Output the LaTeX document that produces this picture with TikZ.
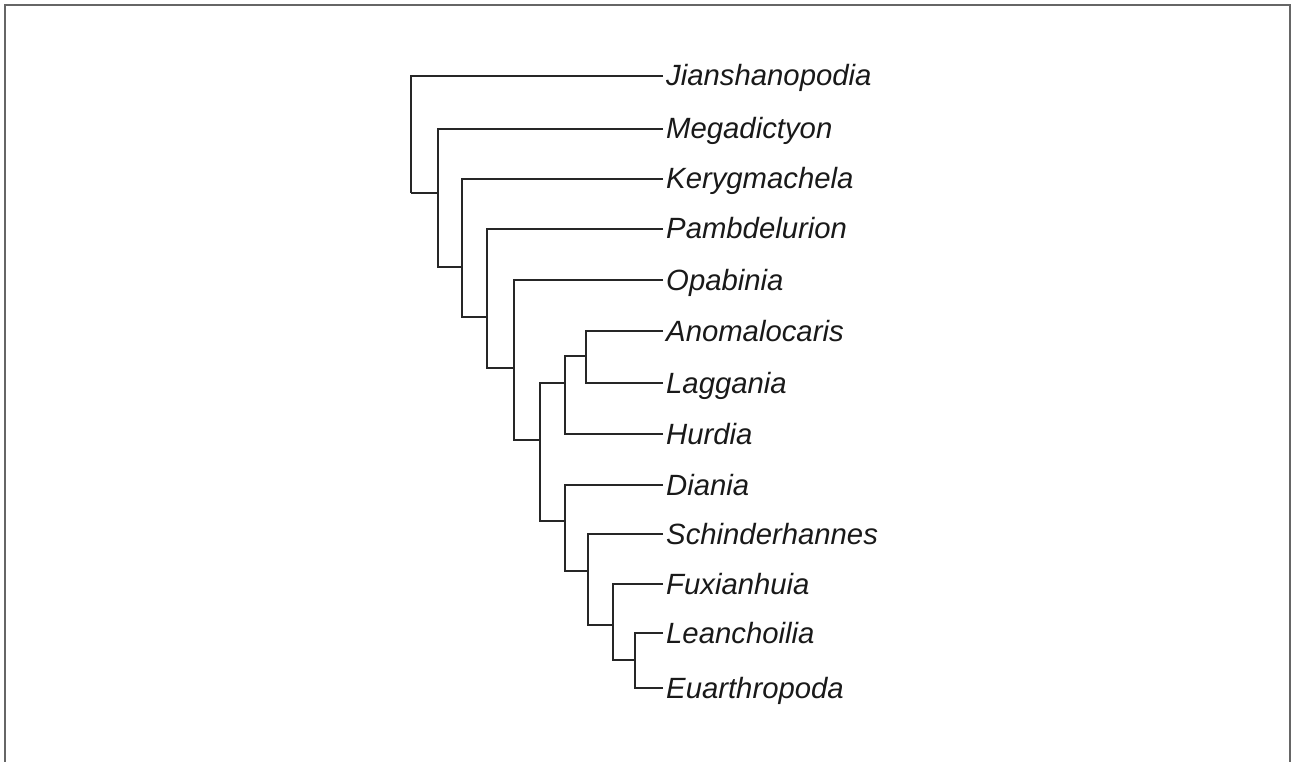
\documentclass[tikz,border=0pt]{standalone}
\usepackage{fontspec}
\setmainfont{Liberation Sans}
\begin{document}
\begin{tikzpicture}[x=1pt,y=-1pt,
  branch/.style={draw=black!85,line width=1.6pt},
  taxon/.style={anchor=west,inner xsep=3pt,inner ysep=0pt,text height=20pt,text depth=0pt,
    font=\fontsize{29.3}{31}\selectfont\itshape,text=black!90},
  frame/.style={draw=black!60,line width=2pt}]
\useasboundingbox (0,0) rectangle (1296,762);
\draw[frame] (5,770) -- (5,5) -- (1290,5) -- (1290,770);
% leaves
\node[taxon] (jia) at (663,76) {Jianshanopodia};
\node[taxon] (meg) at (663,129) {Megadictyon};
\node[taxon] (ker) at (663,179) {Kerygmachela};
\node[taxon] (pam) at (663,229) {Pambdelurion};
\node[taxon] (opa) at (663,280) {Opabinia};
\node[taxon] (ano) at (663,331) {Anomalocaris};
\node[taxon] (lag) at (663,383) {Laggania};
\node[taxon] (hur) at (663,434) {Hurdia};
\node[taxon] (dia) at (663,485) {Diania};
\node[taxon] (sch) at (663,534) {Schinderhannes};
\node[taxon] (fux) at (663,584) {Fuxianhuia};
\node[taxon] (lea) at (663,633) {Leanchoilia};
\node[taxon] (eua) at (663,688) {Euarthropoda};
% internal nodes
\coordinate (n1) at (411,193);
\coordinate (n2) at (438,193);
\coordinate (n3) at (462,267);
\coordinate (n4) at (487,317);
\coordinate (n5) at (514,368);
\coordinate (n6) at (540,440);
\coordinate (n7) at (565,383);
\coordinate (n8) at (586,356);
\coordinate (n9) at (565,521);
\coordinate (n10) at (588,571);
\coordinate (n11) at (613,625);
\coordinate (n12) at (635,660);
% branches
\draw[branch] (jia.west) -| (n1);
\draw[branch] (n2) -| (n1);
\draw[branch] (meg.west) -| (n2);
\draw[branch] (n3) -| (n2);
\draw[branch] (ker.west) -| (n3);
\draw[branch] (n4) -| (n3);
\draw[branch] (pam.west) -| (n4);
\draw[branch] (n5) -| (n4);
\draw[branch] (opa.west) -| (n5);
\draw[branch] (n6) -| (n5);
\draw[branch] (n7) -| (n6);
\draw[branch] (n9) -| (n6);
\draw[branch] (n8) -| (n7);
\draw[branch] (hur.west) -| (n7);
\draw[branch] (ano.west) -| (n8);
\draw[branch] (lag.west) -| (n8);
\draw[branch] (dia.west) -| (n9);
\draw[branch] (n10) -| (n9);
\draw[branch] (sch.west) -| (n10);
\draw[branch] (n11) -| (n10);
\draw[branch] (fux.west) -| (n11);
\draw[branch] (n12) -| (n11);
\draw[branch] (lea.west) -| (n12);
\draw[branch] (eua.west) -| (n12);
\end{tikzpicture}
\end{document}
